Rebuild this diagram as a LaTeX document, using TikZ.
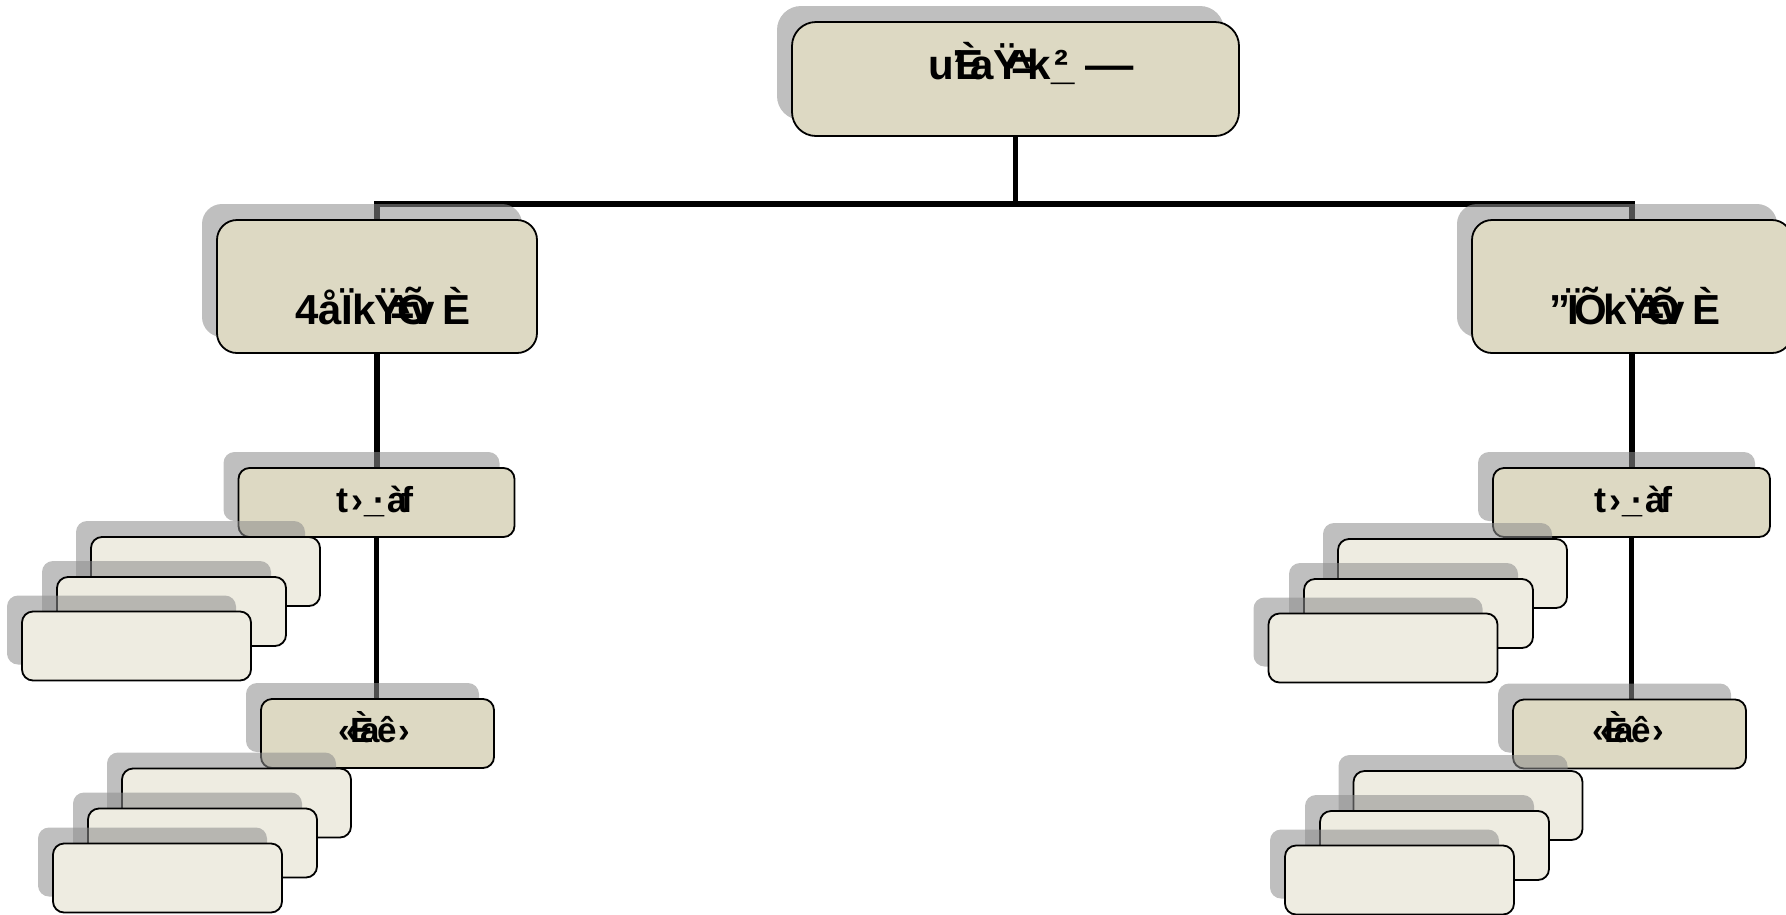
\documentclass[tikz,border=0pt]{standalone}
\usepackage{fontspec}
\usepackage{graphicx}
\setmainfont{Liberation Sans}
\usetikzlibrary{shadows,backgrounds}
\definecolor{boxA}{HTML}{DDD9C3}
\definecolor{boxB}{HTML}{EEECE1}
\definecolor{shcol}{RGB}{141,141,141}
\newcommand{\mytTop}{u\kern-.04em’\kern-.2emÈ\kern-.3ema\kern-.02emŸ\kern-.32em\rlap{\textasciicircum}\kern.08em=\kern-.2emk\kern.02em\rlap{\_}\kern.06em²\kern.42em\scalebox{1.15}[1]{—}}
\newcommand{\mytLL}{4å\kern-.02emÏk\kern-.05emŸ\kern-.38em\rlap{\textasciicircum}\kern.1em=\kern-.42emÕ\kern-.45emv\kern.2emÈ}
\newcommand{\mytLR}{”\kern-.05emÏ\kern-.12emÕ\kern-.1emk\kern-.05emŸ\kern-.38em\rlap{\textasciicircum}\kern.1em=\kern-.42emÕ\kern-.45emv\kern.2emÈ}
\newcommand{\mytMid}{t\kern.1em›\kern.02em\_\kern-.3em·\kern.05emà\kern-.15emf}
\newcommand{\mytLow}{«\kern-.2emÈ\kern-.4ema\kern-.05emê\kern.02em›}
\tikzset{
 shad/.style={drop shadow={shadow xshift=-15pt, shadow yshift=16pt, fill=shcol, opacity=0.56}},
 mainbox/.style={draw=black, line width=1.8pt, fill=boxA, rounded corners=#1, inner sep=0pt, shad},
 leafbox/.style={draw=black, line width=1.8pt, fill=boxB, rounded corners=11pt, inner sep=0pt, shad, minimum width=229pt, minimum height=69pt},
 conn/.style={line width=5.5pt, draw=black},
 lbl/.style={anchor=base, inner sep=0pt, font=\bfseries\fontsize{#1}{#1}\selectfont}
}
\begin{document}
\begin{tikzpicture}[x=1pt,y=-1pt]
\useasboundingbox (0,0) rectangle (1786,914);
% top and level 2
\node[mainbox=24pt, minimum width=447pt, minimum height=114pt] (top) at (1015.5,79) {};
\node[mainbox=20pt, minimum width=320pt, minimum height=133pt] (l2L) at (377,286.5) {};
\node[mainbox=20pt, minimum width=320pt, minimum height=133pt] (l2R) at (1632,286.5) {};
% left branch
\node[mainbox=11pt, minimum width=276pt, minimum height=69pt] (l3L) at (376.5,502.5) {};
\node[leafbox] (aL3) at (205.5,571.5) {};
\node[leafbox] (bL3) at (171.5,611.5) {};
\node[leafbox] (cL3) at (136.5,646) {};
\node[mainbox=11pt, minimum width=233pt, minimum height=69pt] (l4L) at (377.5,733.5) {};
\node[leafbox] (aL4) at (236.5,803) {};
\node[leafbox] (bL4) at (202.5,843) {};
\node[leafbox] (cL4) at (167.5,878) {};
% right branch
\node[mainbox=11pt, minimum width=277pt, minimum height=69pt] (l3R) at (1631.5,502.5) {};
\node[leafbox] (aR3) at (1452.5,573.5) {};
\node[leafbox] (bR3) at (1418.5,613.5) {};
\node[leafbox] (cR3) at (1383,648) {};
\node[mainbox=11pt, minimum width=233pt, minimum height=69pt] (l4R) at (1629.5,734) {};
\node[leafbox] (aR4) at (1468,805.5) {};
\node[leafbox] (bR4) at (1434.5,845.5) {};
\node[leafbox] (cR4) at (1399.5,880) {};
% labels
\node[lbl=42] (tTop) at (1031,79) {\mytTop};
\node[lbl=42] (tL2L) at (383,324) {\mytLL};
\node[lbl=42] (tL2R) at (1635,324) {\mytLR};
\node[lbl=36] (tL3L) at (375,512) {\mytMid};
\node[lbl=36] (tL3R) at (1633,512) {\mytMid};
\node[lbl=35] (tL4L) at (374,742) {\mytLow};
\node[lbl=35] (tL4R) at (1628,742) {\mytLow};
% connectors
\begin{pgfonlayer}{background}
\coordinate (hb) at (1015.5,204);
\draw[conn] (top.south) -- (hb);
\draw[conn] (l2L.north) |- (hb) -| (l2R.north);
\draw[conn] (l2L.south) -- (l2L.south |- l3L.north);
\draw[conn] (l3L.south) -- (l3L.south |- l4L.north);
\draw[conn] (l2R.south) -- (l2R.south |- l3R.north);
\draw[conn] (l3R.south) -- (l3R.south |- l4R.north);
\end{pgfonlayer}
\end{tikzpicture}
\end{document}
